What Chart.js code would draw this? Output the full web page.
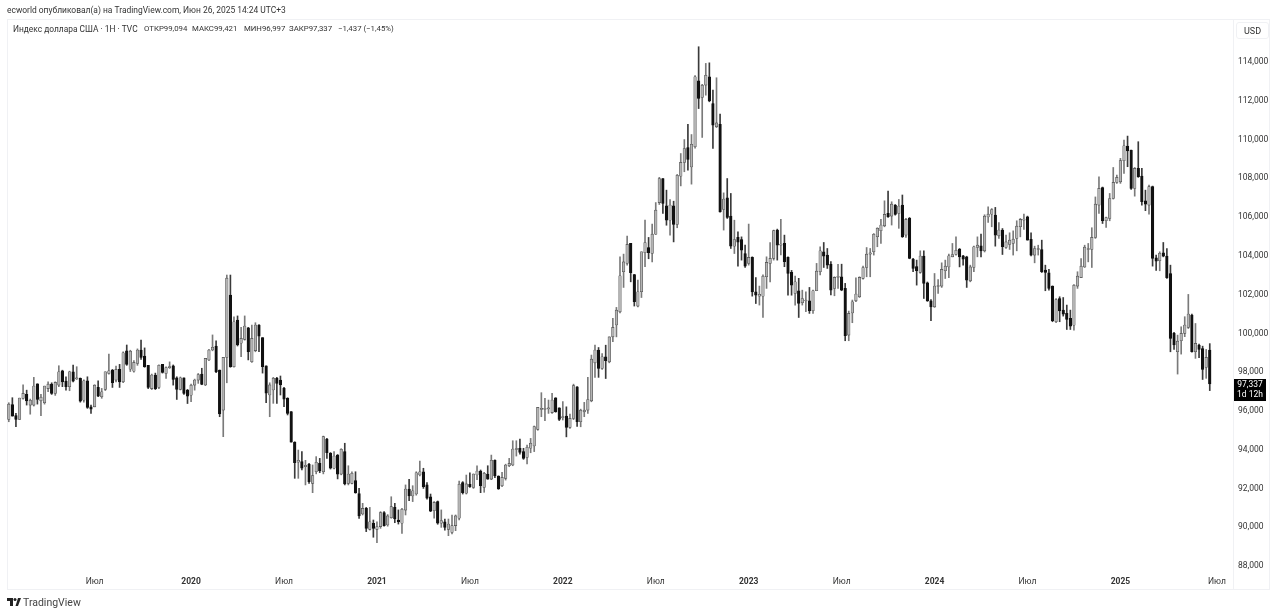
<!DOCTYPE html>
<html lang="ru">
<head>
<meta charset="utf-8">
<title>Индекс доллара США</title>
<script src="https://cdn.jsdelivr.net/npm/chart.js@4/dist/chart.umd.min.js"></script>
<style>
  html, body { margin: 0; padding: 0; background: #fff; width: 1280px; height: 615px; overflow: hidden; }
  body { position: relative; font-family: Roboto, "Liberation Sans", sans-serif; color: #333; }
  #chart { position: absolute; left: 0; top: 0; }
  .frame { position: absolute; left: 7px; top: 19px; width: 1263px; height: 571px; border: 1px solid #f0f1f4; box-sizing: border-box; }
  .side { position: absolute; left: 1233px; top: 19px; width: 1px; height: 571px; background: #f0f1f4; }
  .txt { position: absolute; white-space: pre; line-height: 12px; }
  #published { left: 7px; top: 4px; font-size: 8.45px; color: #333; }
  .legend { top: 23px; font-size: 7.8px; color: #333; }
  #symbol { font-size: 8.4px; }
  #usd { left: 1236px; top: 22px; width: 33px; height: 17px; line-height: 17px; font-size: 9px; text-align: center; color: #333; border: 1px solid #f0f1f4; border-radius: 3px; box-sizing: border-box; }
  #brand { left: 23px; top: 597px; font-size: 10.5px; color: #444; }
  #logo { position: absolute; left: 7px; top: 598px; }
</style>
</head>
<body>
<div class="frame"></div>
<div class="side"></div>
<canvas id="chart" width="1280" height="615"></canvas>
<div class="txt" id="published">ecworld опубликовал(а) на TradingView.com, Июн 26, 2025 14:24 UTC+3</div>
<div class="txt legend" id="symbol" style="left:13px">Индекс доллара США · 1Н · TVC</div>
<div class="txt legend" style="left:144px">ОТКР99,094</div>
<div class="txt legend" style="left:192px">МАКС99,421</div>
<div class="txt legend" style="left:244px">МИН96,997</div>
<div class="txt legend" style="left:289px">ЗАКР97,337</div>
<div class="txt legend" style="left:338px">−1,437 (−1,45%)</div>
<div class="txt" id="usd">USD</div>
<svg id="logo" width="14" height="9" viewBox="0 0 14 9"><path d="M0 0h6v8H3V3H0zM8.5 8L11 0h3l-3 8z" fill="#222"/><circle cx="8" cy="1.5" r="1.5" fill="#222"/></svg>
<div class="txt" id="brand">TradingView</div>
<script>
/**
 * Weekly candles
 */
const opens = [
  95.51,96.27,95.71,95.51,96.59,96.8,96.25,96.25,97.35,96.47,
  96.37,97.1,97.33,96.85,97.28,98.02,97.49,97.2,97.97,97.6,
  97.63,96.5,97.5,96.16,96.16,97.16,96.68,97.06,97.88,98.05,
  97.54,98.09,97.45,99.05,98.1,98.0,98.4,99.09,98.78,98.3,
  97.1,97.8,97.16,98.35,97.88,98.18,98.28,97.66,97.06,97.66,
  97.02,96.76,97.28,97.54,97.85,97.29,98.58,99.09,99.3,98.06,
  95.99,98.71,101.93,98.23,100.64,99.44,99.64,100.24,98.49,99.06,
  100.38,99.73,98.27,96.77,97.03,97.63,97.54,97.11,96.6,95.91,
  94.33,93.3,93.33,93.07,93.19,92.21,92.81,93.24,92.81,94.5,
  93.76,92.99,93.67,92.69,93.85,92.21,92.21,92.35,91.68,90.63,
  90.92,89.84,90.15,89.84,89.98,90.7,90.06,90.44,90.97,90.32,
  90.15,90.83,91.92,91.56,91.66,92.64,92.81,92.13,91.52,90.8,
  91.27,90.15,90.23,89.84,89.68,90.03,90.41,92.25,91.7,92.16,
  92.0,92.64,92.85,92.0,92.69,92.43,93.4,92.59,92.09,92.47,
  93.12,93.16,93.96,94.02,93.85,93.55,94.02,94.14,95.0,96.03,
  96.03,96.05,95.86,96.63,96.11,95.6,95.68,95.1,95.56,97.19,
  95.39,95.9,95.99,96.47,98.43,99.09,98.14,98.74,98.48,99.77,
  100.38,101.06,103.13,103.56,104.59,102.99,101.36,102.1,104.11,104.38,
  104.07,105.07,106.7,107.94,106.53,105.79,106.53,105.57,108.06,108.77,
  109.54,108.54,109.58,112.98,112.12,112.76,113.19,111.81,110.61,110.74,
  106.34,106.94,106.0,104.45,104.9,104.79,104.07,103.56,
  103.87,102.09,101.87,101.87,102.87,103.56,103.82,105.28,104.5,104.59,103.87,103.1,
  102.01,102.15,101.53,101.62,101.63,101.12,102.15,103.13,104.16,103.99,
  103.51,102.27,102.84,102.87,102.27,99.86,101.0,101.63,101.84,102.79,
  103.35,104.04,104.16,104.94,105.25,105.5,106.14,106.0,106.57,106.14,
  106.57,105.02,105.88,103.78,103.4,103.1,103.94,102.56,101.63,101.32,
  102.37,102.39,103.18,103.38,103.9,104.02,104.3,103.95,103.9,102.66,
  103.35,104.38,104.47,104.21,105.96,106.1,106.05,104.98,105.28,104.38,
  104.54,104.59,104.85,105.45,105.79,105.96,104.8,103.99,104.28,104.28,
  103.21,103.08,102.39,100.55,101.75,101.15,100.98,100.72,100.37,102.39,
  102.83,103.38,104.28,104.28,104.9,106.57,107.47,105.76,105.88,106.91,
  107.74,107.77,108.86,109.61,109.41,107.43,108.46,108.07,106.79,106.57,
  107.52,103.85,103.7,104.11,103.94,103.04,99.95,99.0,99.57,99.95,
  100.26,100.89,99.0,99.35,99.17,98.19,99.094
]
const closes = [
  96.3,95.68,95.51,96.61,96.85,96.47,96.5,97.23,96.54,96.66,
  97.23,97.33,96.85,97.42,97.97,97.45,97.2,97.97,97.49,97.63,
  96.45,97.5,96.13,96.04,97.28,96.71,96.94,97.97,98.02,97.4,
  98.09,97.45,98.95,98.35,99.03,98.45,99.09,98.71,98.23,97.16,
  97.8,97.1,98.3,97.93,98.19,98.23,97.57,97.06,97.66,96.85,
  96.71,97.28,97.54,97.83,97.32,98.66,99.09,99.23,97.97,95.79,
  98.71,102.8,98.23,100.55,99.35,99.69,100.33,99.0,99.69,100.38,
  99.81,98.23,96.86,97.29,97.63,97.37,97.29,96.56,95.82,94.33,
  93.28,93.4,92.99,93.14,92.3,92.61,93.3,92.85,94.62,93.8,
  92.99,93.62,92.69,93.97,92.18,92.69,92.73,91.73,90.53,90.92,
  89.89,90.23,89.89,89.98,90.7,90.03,90.53,91.01,90.37,90.23,
  90.87,91.92,91.56,91.83,92.76,92.81,92.04,91.44,90.78,91.23,
  90.15,90.29,89.94,90.11,90.03,90.53,92.16,91.73,92.18,92.04,
  92.69,92.85,92.09,92.73,92.43,93.4,92.59,91.92,92.52,93.16,
  93.24,93.98,93.98,93.81,93.5,94.07,94.28,95.14,96.13,96.05,
  96.06,96.1,96.51,95.91,95.51,95.65,95.1,95.56,97.25,95.39,
  95.99,95.99,96.54,98.62,99.09,98.14,98.74,98.54,99.77,100.26,
  101.15,102.92,103.64,104.54,103.08,101.58,102.1,104.16,104.64,104.11,
  105.07,106.31,107.94,106.65,105.79,106.57,105.57,108.11,108.77,109.49,
  108.92,109.71,113.19,112.07,112.76,113.27,111.95,110.69,110.81,106.22,
  106.88,105.93,104.45,104.79,104.66,104.24,103.42,103.87,
  102.09,101.92,101.97,102.9,103.61,103.82,105.25,104.5,104.5,103.65,103.04,102.44,
  102.61,101.5,101.75,101.66,101.12,102.15,103.16,104.21,103.94,103.47,
  102.18,102.84,102.87,102.18,99.83,100.98,101.58,101.98,102.84,103.35,
  104.04,104.11,105.06,105.37,105.54,106.09,105.97,106.62,106.09,106.52,
  104.94,105.83,103.82,103.3,103.18,103.94,102.53,101.63,101.32,102.39,
  102.41,103.25,103.42,103.95,104.02,104.24,103.9,103.78,102.7,103.38,
  104.42,104.5,104.21,106.0,106.1,106.34,105.02,105.28,104.42,104.67,
  104.76,104.81,105.48,105.83,105.8,104.76,103.99,104.33,104.3,103.13,
  103.09,102.27,100.6,101.7,101.11,100.94,100.67,100.32,102.44,102.9,
  103.42,104.4,104.3,104.9,106.62,107.43,105.76,105.93,106.91,107.74,
  108.0,108.86,109.63,109.37,107.43,108.46,108.03,106.74,106.62,107.52,
  103.82,103.68,104.08,103.94,102.82,99.69,99.35,99.55,99.95,100.38,
  100.95,99.0,99.43,99.12,98.09,98.71,97.337
]
const highs = [
  96.37,96.63,95.82,96.61,97.3,97.02,96.56,97.68,97.35,96.8,
  97.23,97.45,97.4,97.45,98.28,98.05,97.71,98.0,98.31,98.23,
  97.65,97.55,97.71,96.25,97.3,97.5,97.11,97.97,98.88,98.09,
  98.26,98.35,99.0,99.35,99.08,98.55,99.15,99.6,99.2,98.3,
  97.85,97.9,98.33,98.35,98.23,98.48,98.32,97.71,97.7,97.66,
  97.06,97.33,97.59,97.88,98.15,98.66,99.13,99.87,99.57,98.06,
  98.71,102.96,102.96,100.8,100.85,100.26,100.85,100.26,100.38,100.5,
  100.4,99.73,98.27,97.4,97.68,97.68,97.75,97.17,96.63,95.91,
  94.36,93.93,93.85,93.4,93.24,93.16,93.59,93.5,94.65,94.53,
  93.8,93.85,93.7,94.0,94.28,93.12,92.81,92.81,91.95,91.18,
  90.97,90.97,90.32,90.23,90.75,90.75,90.6,91.52,91.18,90.84,
  90.92,92.13,92.42,92.09,92.81,93.36,92.99,92.25,91.66,91.27,
  91.3,90.84,90.37,90.37,90.58,90.58,92.33,92.3,92.64,92.76,
  92.7,93.12,92.9,92.78,93.12,93.67,93.42,92.6,92.78,93.2,
  93.5,94.41,94.41,94.5,94.02,94.19,94.53,95.17,96.13,96.89,
  96.6,96.51,96.86,96.63,96.11,96.43,96.16,95.78,97.33,97.2,
  96.04,96.39,97.68,98.83,99.34,99.22,98.91,99.34,99.77,100.72,
  101.29,103.9,104.04,104.97,104.59,102.99,102.7,104.16,105.79,104.9,
  105.59,106.7,108.0,107.94,107.34,106.86,106.77,108.15,109.23,109.95,
  110.74,110.21,113.25,114.74,112.8,113.88,113.91,112.5,113.14,111.26,
  107.2,107.94,107.17,105.79,105.19,104.93,104.5,105.59,
  103.9,102.83,102.39,102.97,103.9,104.63,105.28,105.33,105.83,105.02,103.9,103.2,
  102.9,102.79,102.18,102.1,102.32,102.18,103.56,104.42,104.64,104.33,
  103.65,102.87,103.51,103.52,102.53,101.1,101.67,102.82,102.87,103.42,
  104.38,104.33,105.1,105.4,105.83,106.79,107.29,106.74,106.6,106.86,
  107.09,105.88,105.93,103.82,103.73,104.21,104.21,102.6,101.7,103.04,
  102.73,103.59,103.73,104.04,104.59,104.93,104.33,103.98,103.93,103.47,
  104.45,104.93,105.07,106.07,106.48,106.39,106.45,105.67,105.36,105.02,
  105.14,105.24,105.76,105.88,106.1,106.0,105.14,104.45,104.5,104.76,
  103.47,103.25,102.4,101.75,101.84,101.8,101.41,101.15,102.47,103.13,
  103.81,104.5,104.59,105.4,106.99,108.03,107.5,105.95,107.17,108.51,
  108.12,108.98,109.92,110.13,109.41,108.51,109.84,108.46,107.34,107.6,
  107.55,103.99,104.16,104.64,104.33,103.47,100.0,99.86,100.29,100.81,
  101.96,100.95,100.46,99.4,99.29,99.12,99.421
]
const lows = [
  95.39,95.68,95.13,95.5,96.56,96.25,95.78,96.2,96.3,95.7,
  96.3,96.94,96.8,96.75,97.2,97.2,97.02,96.99,97.45,97.57,
  96.4,96.4,96.08,95.82,96.16,96.68,96.6,97.0,97.85,97.16,
  97.45,97.16,97.4,98.3,97.98,97.95,98.3,98.6,98.2,97.1,
  97.05,97.05,97.1,97.9,97.62,98.14,97.28,96.54,97.03,96.8,
  96.33,96.42,97.02,97.37,97.3,97.25,98.54,99.05,97.92,95.65,
  94.62,97.4,98.2,98.2,99.3,98.75,99.6,98.58,98.45,99.0,
  99.0,97.9,96.37,95.65,96.34,96.34,96.77,96.17,95.74,94.33,
  92.47,92.47,92.9,92.13,92.21,91.73,92.7,92.76,92.7,93.5,
  92.95,92.95,92.44,92.65,92.13,92.13,92.18,91.7,90.4,90.58,
  89.72,89.8,89.43,89.15,89.89,90.0,90.0,90.41,90.18,90.11,
  89.63,90.58,91.32,91.27,91.6,92.59,91.95,91.39,90.75,90.41,
  90.1,89.94,89.8,89.51,89.6,89.77,90.32,91.66,91.66,92.0,
  91.95,92.4,91.73,91.75,92.42,92.4,92.5,91.9,92.04,92.38,
  93.07,93.12,93.62,93.72,93.45,93.21,93.79,93.85,94.95,95.65,
  95.45,95.82,95.82,95.88,95.45,95.48,94.61,95.04,95.5,95.15,
  95.13,95.65,95.82,96.42,97.68,97.68,98.09,97.62,98.43,99.52,
  99.77,101.0,102.32,103.47,102.61,101.36,101.32,101.8,103.39,103.8,
  103.64,105.05,106.6,106.14,105.53,105.02,104.67,105.4,107.56,108.29,
  108.37,107.65,109.5,111.55,110.06,112.24,111.9,109.49,110.57,106.2,
  105.28,105.88,104.33,104.07,103.42,103.73,103.35,103.47,
  101.87,101.49,101.41,100.77,102.27,102.61,103.73,103.73,104.0,103.39,101.92,101.92,
  101.41,100.77,101.41,101.07,100.98,100.98,102.15,102.96,103.35,103.3,
  101.93,101.89,102.27,102.15,99.57,99.57,100.5,101.58,101.8,102.75,
  102.87,102.87,103.99,104.42,104.59,105.45,105.93,105.54,106.05,105.37,
  104.9,104.9,103.8,103.13,102.44,103.05,101.75,101.6,100.6,101.29,
  102.01,102.32,102.78,102.83,103.9,103.98,103.38,103.47,102.32,102.61,
  103.13,103.9,103.9,104.15,105.67,105.45,104.45,104.85,104.02,104.33,
  104.28,103.99,104.21,104.93,105.31,104.76,103.95,103.59,103.99,103.09,
  102.15,102.18,100.55,100.5,100.55,100.84,100.15,100.15,100.12,102.27,
  102.83,103.35,103.64,103.35,104.85,106.14,105.62,105.42,105.76,106.88,
  107.69,107.69,108.2,108.55,107.38,107.03,108.0,106.57,106.28,106.1,
  103.42,103.2,103.18,103.9,102.79,99.0,99.12,97.85,98.88,99.78,
  100.2,98.98,98.66,98.7,97.57,97.63,96.997
]

// time axis: slot of each label, counted in weeks from the first candle
const tickSlots = [24, 51, 77, 103, 129, 155, 181, 207, 233, 259, 285, 311, 338]
const tickNames = ['Июл', '2020', 'Июл', '2021', 'Июл', '2022', 'Июл', '2023', 'Июл', '2024', 'Июл', '2025', 'Июл']
const priceTicks = [88, 90, 92, 94, 96, 98, 100, 102, 104, 106, 108, 110, 112, 114]
const futureSlots = 6

const DOWN = '#111111'
const UP = '#b4b4b4'
const UP_EDGE = '#4a4a4a'

function isDown (i) {
  return closes[i] < opens[i]
}

function priceLabel (v) {
  return v.toFixed(3).replace('.', ',')
}

// Last price tag on the price axis
const lastPriceTag = {
  id: 'lastPriceTag',
  afterDraw (chart) {
    const ctx = chart.ctx,
          y   = chart.scales.y.getPixelForValue(closes[closes.length - 1])
    ctx.save()
    ctx.fillStyle = '#000'
    ctx.fillRect(1234, y - 5, 32, 22)
    ctx.fillStyle = '#fff'
    ctx.font = '8.5px Roboto, "Liberation Sans", sans-serif'
    ctx.textAlign = 'center'
    ctx.textBaseline = 'middle'
    ctx.fillText(priceLabel(closes[closes.length - 1]), 1250, y + 1)
    ctx.fillText('1d 12h', 1250, y + 11)
    ctx.restore()
  }
}

const slots = Array.from({length: opens.length + futureSlots}, (_, i) => i)

new Chart(document.getElementById('chart'), {
  type   : 'bar',
  plugins: [lastPriceTag],
  data   : {
    labels  : slots,
    datasets: [
      {
        label          : 'Тень',
        data           : lows.map((l, i) => [l, highs[i]]),
        backgroundColor: lows.map((_, i) => isDown(i) ? '#3a3a3a' : '#7a7a7a'),
        barThickness   : 1,
        grouped        : false,
        order          : 2
      },
      {
        label          : 'Тело',
        data           : opens.map((o, i) => [o, closes[i]]),
        backgroundColor: opens.map((_, i) => isDown(i) ? DOWN : UP),
        borderColor    : opens.map((_, i) => isDown(i) ? DOWN : UP_EDGE),
        borderWidth    : 0.6,
        borderSkipped  : false,
        barThickness   : 2.6,
        minBarLength   : 1,
        grouped        : false,
        order          : 1
      }
    ]
  },
  options: {
    responsive      : false,
    animation       : false,
    devicePixelRatio: 1,
    layout          : {padding: {left: 7, top: 20, right: 10, bottom: 25}},
    plugins         : {legend: {display: false}, tooltip: {enabled: false}, title: {display: false}},
    scales          : {
      x: {
        grid  : {display: false, drawTicks: false},
        border: {display: false},
        ticks : {
          autoSkip   : false,
          maxRotation: 0,
          padding    : 7,
          color      : '#333',
          font       : ctx => ({
            family: 'Roboto, "Liberation Sans", sans-serif',
            size  : 8.5,
            weight: /^\d/.test(ctx.tick.label) ? 'bold' : 'normal'
          }),
          callback   : v => tickNames[tickSlots.indexOf(v)]
        },
        afterBuildTicks (axis) {
          axis.ticks = tickSlots.map(v => ({value: v}))
        },
        afterFit (axis) {
          axis.height = 20
        }
      },
      y: {
        position: 'right',
        min     : 87.74,
        max     : 116.12,
        grid    : {display: false, drawTicks: false},
        border  : {display: false},
        ticks   : {
          padding    : 5,
          labelOffset: 1,
          color      : '#333',
          font       : {family: 'Roboto, "Liberation Sans", sans-serif', size: 8.5},
          callback   : v => priceLabel(v)
        },
        afterBuildTicks (axis) {
          axis.ticks = priceTicks.map(v => ({value: v}))
        },
        afterFit (axis) {
          axis.width = 37
        }
      }
    }
  }
})
</script>
</body>
</html>
